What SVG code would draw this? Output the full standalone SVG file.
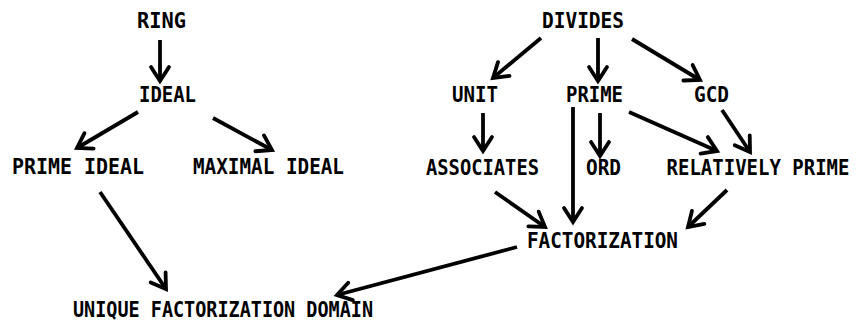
<svg xmlns="http://www.w3.org/2000/svg" width="856" height="326" viewBox="0 0 856 326">
<defs>
<style>
.lbl{font-family:"DejaVu Sans Mono","Liberation Mono",monospace;font-weight:bold;font-size:21px;fill:#000;text-anchor:middle;}
.edge{stroke:#000;stroke-width:3.8;fill:none;stroke-linecap:butt;}
</style>
<marker id="ah" markerUnits="userSpaceOnUse" markerWidth="30" markerHeight="30" viewBox="-16 -15 30 30" refX="0" refY="0" orient="auto" overflow="visible">
<path d="M-14,-9 L0,0 L-14,9" fill="none" stroke="#000" stroke-width="3.8" stroke-linejoin="miter" stroke-linecap="round"/>
</marker>
</defs>
<rect width="856" height="326" fill="#fff"/>
<g id="connectors">
<line class="edge" x1="160" y1="40" x2="160" y2="81" marker-end="url(#ah)"/>
<line class="edge" x1="138" y1="112" x2="77" y2="148" marker-end="url(#ah)"/>
<line class="edge" x1="213" y1="118" x2="272" y2="150" marker-end="url(#ah)"/>
<line class="edge" x1="100" y1="192" x2="166" y2="289" marker-end="url(#ah)"/>
<line class="edge" x1="541" y1="38" x2="493" y2="78" marker-end="url(#ah)"/>
<line class="edge" x1="598" y1="38" x2="598" y2="81" marker-end="url(#ah)"/>
<line class="edge" x1="632" y1="39" x2="700" y2="80" marker-end="url(#ah)"/>
<line class="edge" x1="483" y1="113" x2="483" y2="151" marker-end="url(#ah)"/>
<line class="edge" x1="573" y1="107" x2="573" y2="222" marker-end="url(#ah)"/>
<line class="edge" x1="600" y1="113" x2="600" y2="156" marker-end="url(#ah)"/>
<line class="edge" x1="629" y1="112" x2="717" y2="151" marker-end="url(#ah)"/>
<line class="edge" x1="722" y1="110" x2="750" y2="152" marker-end="url(#ah)"/>
<line class="edge" x1="495" y1="192" x2="545" y2="227" marker-end="url(#ah)"/>
<line class="edge" x1="727" y1="190" x2="688" y2="227" marker-end="url(#ah)"/>
<line class="edge" x1="517" y1="247" x2="337" y2="295" marker-end="url(#ah)"/>
</g>
<g id="ring"><text class="lbl" x="161.5" y="28" textLength="49" lengthAdjust="spacingAndGlyphs">RING</text></g>
<g id="ideal"><text class="lbl" x="167.5" y="102" textLength="57" lengthAdjust="spacingAndGlyphs">IDEAL</text></g>
<g id="prime-ideal"><text class="lbl" x="78" y="174" textLength="132" lengthAdjust="spacingAndGlyphs">PRIME IDEAL</text></g>
<g id="maximal-ideal"><text class="lbl" x="268.5" y="174" textLength="151" lengthAdjust="spacingAndGlyphs">MAXIMAL IDEAL</text></g>
<g id="ufd"><text class="lbl" x="223" y="317" textLength="300" lengthAdjust="spacingAndGlyphs">UNIQUE FACTORIZATION DOMAIN</text></g>
<g id="divides"><text class="lbl" x="583" y="28" textLength="82" lengthAdjust="spacingAndGlyphs">DIVIDES</text></g>
<g id="unit"><text class="lbl" x="475" y="102" textLength="46" lengthAdjust="spacingAndGlyphs">UNIT</text></g>
<g id="prime"><text class="lbl" x="594.5" y="102" textLength="57" lengthAdjust="spacingAndGlyphs">PRIME</text></g>
<g id="gcd"><text class="lbl" x="711.5" y="102" textLength="35" lengthAdjust="spacingAndGlyphs">GCD</text></g>
<g id="associates"><text class="lbl" x="482.5" y="175" textLength="113" lengthAdjust="spacingAndGlyphs">ASSOCIATES</text></g>
<g id="ord"><text class="lbl" x="603.5" y="175" textLength="35" lengthAdjust="spacingAndGlyphs">ORD</text></g>
<g id="relatively-prime"><text class="lbl" transform="translate(758,175) scale(0.905,1)" x="0" y="0">RELATIVELY PRIME</text></g>
<g id="factorization"><text class="lbl" x="602.5" y="248" textLength="151" lengthAdjust="spacingAndGlyphs">FACTORIZATION</text></g>
</svg>
